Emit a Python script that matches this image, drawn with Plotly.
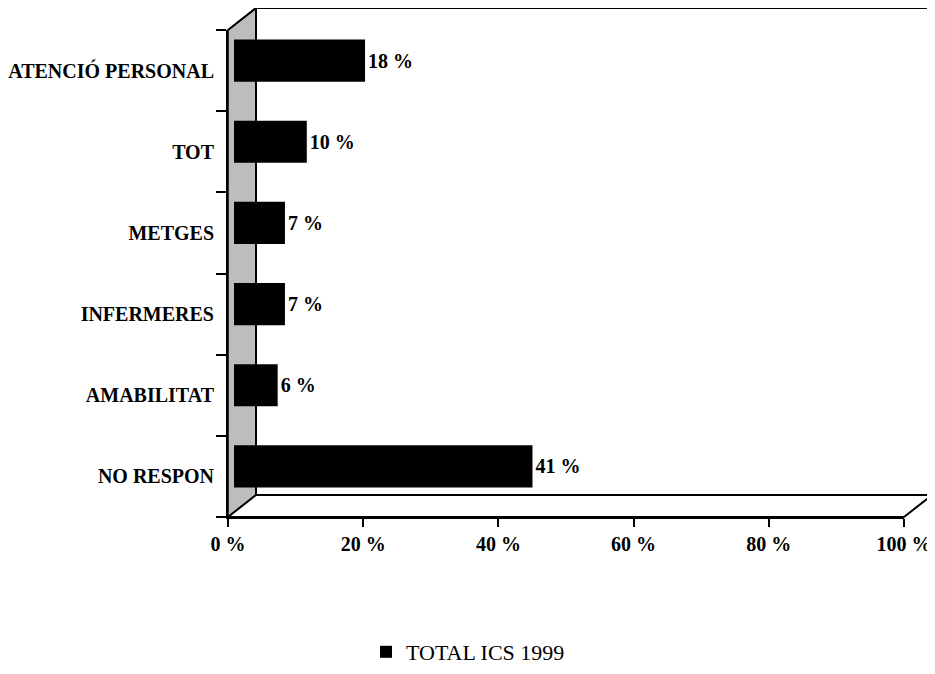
import plotly.graph_objects as go

# ---- data ----
categories = ["ATENCIÓ PERSONAL", "TOT", "METGES", "INFERMERES", "AMABILITAT", "NO RESPON"]
values = [18, 10, 7, 7, 6, 41]
series_name = "TOTAL ICS 1999"
x_ticks = [0, 20, 40, 60, 80, 100]
x_tick_labels = ["0 %", "20 %", "40 %", "60 %", "80 %", "100 %"]

# ---- layout geometry (page body adds an 8px offset) ----
OFF = 8
W, H = 935 - OFF, 674 - 2 * OFF
ML, MT = 228 - OFF, 30 - OFF
MR = W - (904 - OFF)
MB = H - (517 - OFF)
PW = W - ML - MR
PH = H - MT - MB
DX = 28 / PW          # 3D depth offset (paper units)
DY = 22 / PH
BAR_PX_PER_UNIT = 7.28   # perspective scale of the bar plane
BAR_START_PX = 6
row_px = PH / len(categories)
shift = 10 / row_px

FONT = "Liberation Serif"
cat_order = list(reversed(categories))

fig = go.Figure()

# helper (invisible) trace so the front category axis is populated
fig.add_trace(go.Scatter(
    x=values, y=categories, mode="markers", marker=dict(opacity=0),
    showlegend=False, hoverinfo="skip", xaxis="x", yaxis="y"))

fig.add_trace(go.Bar(
    x=values, y=categories, orientation="h", name=series_name,
    marker=dict(color="black", line=dict(width=0)), width=0.52,
    text=[f"{v} %" for v in values], textposition="outside",
    textfont=dict(family=FONT, size=20, color="black", weight="bold"),
    cliponaxis=False, xaxis="x2", yaxis="y2", showlegend=True))

shapes = [
    # side wall (stippled gray)
    dict(type="path", xref="paper", yref="paper", layer="below",
         path=f"M 0,0 L {DX},{DY} L {DX},{1+DY} L 0,1 Z",
         fillcolor="#bdbdbd", line=dict(color="black", width=1.5)),
    # floor
    dict(type="path", xref="paper", yref="paper", layer="below",
         path=f"M 0,0 L 1,0 L {1+DX},{DY} L {DX},{DY} Z",
         fillcolor="white", line=dict(color="black", width=2)),
    # back wall
    dict(type="rect", xref="paper", yref="paper", layer="below",
         x0=DX, x1=1 + DX, y0=DY, y1=1 + DY,
         fillcolor="rgba(0,0,0,0)", line=dict(color="black", width=2)),
    # top-left diagonal
    dict(type="line", xref="paper", yref="paper", layer="below",
         x0=0, y0=1, x1=DX, y1=1 + DY, line=dict(color="black", width=2)),
]

fig.update_layout(
    width=W, height=H,
    margin=dict(l=ML, r=MR, t=MT, b=MB, autoexpand=False),
    paper_bgcolor="white", plot_bgcolor="rgba(0,0,0,0)",
    shapes=shapes,
    showlegend=True,
    legend=dict(orientation="h", x=(468 - 228) / PW, xanchor="center",
                y=(517 - 652) / PH, yanchor="middle",
                font=dict(family=FONT, size=22, color="black"),
                bgcolor="rgba(0,0,0,0)", borderwidth=0),
    xaxis=dict(range=[0, 100], tickvals=x_ticks, ticktext=x_tick_labels,
               ticks="outside", ticklen=8, tickwidth=1.5, tickcolor="black",
               showline=True, linewidth=2, linecolor="black",
               showgrid=False, zeroline=False, automargin=False,
               ticklabelstandoff=0,
               tickfont=dict(family=FONT, size=20, color="black", weight="bold")),
    yaxis=dict(type="category", categoryorder="array", categoryarray=cat_order,
               range=[-0.5, len(categories) - 0.5],
               tickson="boundaries", ticks="outside", ticklen=10, tickwidth=1.5,
               tickcolor="black", showline=True, linewidth=2, linecolor="black",
               showgrid=False, zeroline=False, automargin=False,
               ticklabelstandoff=8,
               tickfont=dict(family=FONT, size=20, color="black", weight="bold")),
    xaxis2=dict(overlaying="x", anchor="y2", visible=False,
                range=[-BAR_START_PX / BAR_PX_PER_UNIT,
                       (PW - BAR_START_PX) / BAR_PX_PER_UNIT]),
    yaxis2=dict(overlaying="y", anchor="x2", visible=False,
                type="category", categoryorder="array", categoryarray=cat_order,
                range=[-0.5 - shift, len(categories) - 0.5 - shift]),
)

fig.write_html("out.html")
